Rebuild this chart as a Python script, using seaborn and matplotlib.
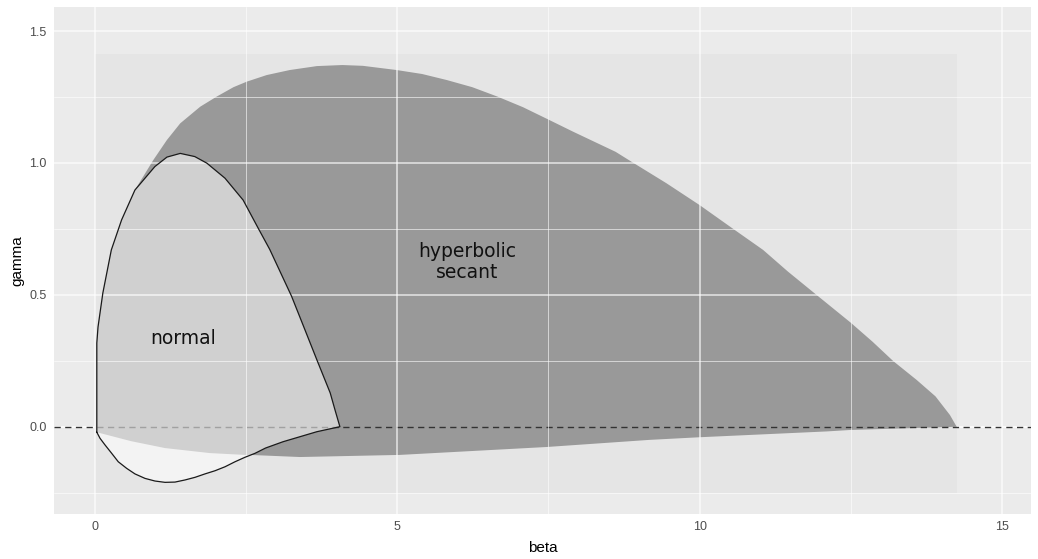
import matplotlib
matplotlib.use("Agg")
import matplotlib.pyplot as plt
import numpy as np
import pandas as pd
import seaborn as sns

# ---------------- data ----------------
# background raster extent
rect_beta = [0.0, 14.25]
rect_gamma = [-0.25, 1.412]

# normal region outline (closed curve, read point by point)
normal_beta = [0.03, 0.03, 0.05, 0.13, 0.27, 0.44, 0.66, 0.99, 1.19, 1.41, 1.65, 1.85,
               2.15, 2.45, 2.70, 2.89, 3.25, 3.45, 3.67, 3.89, 3.97, 4.05,
               3.67, 3.39, 3.11, 2.82, 2.646, 2.48, 2.315, 2.15, 1.985, 1.819, 1.654,
               1.488, 1.323, 1.158, 0.992, 0.827, 0.661, 0.524, 0.385, 0.276, 0.165,
               0.083, 0.03]
normal_gamma = [-0.021, 0.317, 0.378, 0.507, 0.670, 0.784, 0.897, 0.986, 1.022, 1.036, 1.024, 0.999,
                0.942, 0.859, 0.752, 0.672, 0.495, 0.380, 0.253, 0.128, 0.063, 0.0,
                -0.019, -0.038, -0.057, -0.081, -0.101, -0.116, -0.133, -0.152, -0.167, -0.179, -0.192,
                -0.202, -0.210, -0.211, -0.206, -0.196, -0.179, -0.158, -0.133, -0.101, -0.069,
                -0.044, -0.021]

# hyperbolic secant region: upper boundary (left -> right);
# its left part runs under the normal outline
hs_upper_beta = [0.03, 0.03, 0.05, 0.13, 0.27, 0.44, 0.66, 0.965, 1.19, 1.41, 1.74, 2.01,
                 2.29, 2.51, 2.84, 3.22, 3.67, 4.09, 4.43, 4.99, 5.41, 5.82, 6.24, 6.66,
                 7.08, 7.51, 7.91, 8.61, 8.89, 9.45, 10.0, 10.56, 11.05, 11.46,
                 11.92, 12.50, 12.86, 13.20, 13.59, 13.90, 14.14, 14.25]
hs_upper_gamma = [-0.021, 0.317, 0.378, 0.507, 0.670, 0.784, 0.897, 1.011, 1.087, 1.150, 1.213, 1.251,
                  1.287, 1.308, 1.333, 1.352, 1.367, 1.371, 1.368, 1.352, 1.337, 1.314, 1.287, 1.251,
                  1.211, 1.163, 1.118, 1.042, 1.002, 0.923, 0.840, 0.749, 0.670, 0.588,
                  0.502, 0.394, 0.322, 0.249, 0.177, 0.115, 0.044, 0.0]
# hyperbolic secant region: lower boundary (left -> right)
hs_lower_beta = [0.03, 0.60, 1.158, 1.90, 2.48, 2.56, 3.39, 5.04, 7.47, 9.17, 10.0,
                 12.1, 12.49, 14.14, 14.25]
hs_lower_gamma = [-0.021, -0.055, -0.081, -0.100, -0.107, -0.107, -0.115, -0.107, -0.077,
                  -0.050, -0.040, -0.018, -0.0125, -0.001, 0.0]

region_labels = ["normal", "hyperbolic\nsecant"]
label_beta = [1.46, 6.15]
label_gamma = [0.335, 0.625]

x_ticks = [0, 5, 10, 15]
x_minor = [2.5, 7.5, 12.5]
y_ticks = [0.0, 0.5, 1.0, 1.5]
y_minor = [-0.25, 0.25, 0.75, 1.25]
y_tick_labels = ["0.0", "0.5", "1.0", "1.5"]

# ---------------- styling ----------------
sns.set_theme(style="white")
plt.rcParams["font.family"] = ["Liberation Sans", "DejaVu Sans"]

fig = plt.figure(figsize=(10.38, 5.59), dpi=100)
ax = fig.add_axes([54 / 1038, 45 / 559, 977 / 1038, 507 / 559])
ax.set_facecolor("#EBEBEB")
for s in ax.spines.values():
    s.set_visible(False)

ax.set_xlim(-0.678, 15.48)
ax.set_ylim(-0.331, 1.591)

# y = 0 major grid line sits under the layers
ax.axhline(0.0, color="white", lw=1.1, zorder=0.5)

# raster background
ax.fill_between(rect_beta, rect_gamma[0], rect_gamma[1], color="#E5E5E5", lw=0, zorder=0.6)

# hyperbolic secant region
hs_poly_beta = list(hs_upper_beta) + list(hs_lower_beta[::-1])
hs_poly_gamma = list(hs_upper_gamma) + list(hs_lower_gamma[::-1])
ax.fill(hs_poly_beta, hs_poly_gamma, color="#999999", lw=0, zorder=0.7)

# dashed reference line
ax.axhline(0.0, color="#333333", lw=1.0, ls=(0, (4.5, 3.2)), zorder=0.8)

# normal region (translucent white over everything)
ax.fill(normal_beta, normal_gamma, color="white", alpha=0.54, lw=0, zorder=0.9)

# grid on top
for x in x_ticks:
    ax.axvline(x, color="white", lw=1.1, alpha=0.75, zorder=2)
for x in x_minor:
    ax.axvline(x, color="white", lw=0.55, alpha=0.75, zorder=2)
for y in y_ticks[1:]:
    ax.axhline(y, color="white", lw=1.1, alpha=0.75, zorder=2)
for y in y_minor:
    ax.axhline(y, color="white", lw=0.55, alpha=0.75, zorder=2)

# outline of the normal region
outline = pd.DataFrame({"beta": normal_beta, "gamma": normal_gamma})
sns.lineplot(data=outline, x="beta", y="gamma", sort=False, estimator=None,
             color="#1A1A1A", lw=0.9, zorder=3, ax=ax)

for lab, bx, gy in zip(region_labels, label_beta, label_gamma):
    ax.text(bx, gy, lab, ha="center", va="center", fontsize=13.5,
            family=["DejaVu Sans"], color="#111111", linespacing=1.1, zorder=4)

ax.set_xticks(x_ticks)
ax.set_xticklabels([str(v) for v in x_ticks])
ax.set_yticks(y_ticks)
ax.set_yticklabels(y_tick_labels)
ax.grid(False)
ax.tick_params(axis="both", length=2.8, width=0.8, color="#333333",
               labelcolor="#4D4D4D", labelsize=9, pad=2.5)

ax.set_xlabel("beta", fontsize=11, color="black")
ax.set_ylabel("gamma", fontsize=11, color="black")
ax.xaxis.label.set_va("center")
ax.xaxis.set_label_coords(0.5, -0.068)
ax.yaxis.label.set_va("center")
ax.yaxis.set_label_coords(-0.037, 0.5)

fig.savefig("out.png", dpi=100)
